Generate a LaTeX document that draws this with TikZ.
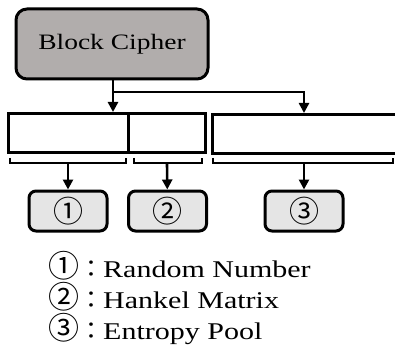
\documentclass[tikz,border=0pt]{standalone}
\usepackage{fontspec}
\setmainfont{Liberation Serif}[FakeStretch=1.25]
\newfontfamily\cjk{Noto Sans CJK KR}
\usetikzlibrary{arrows.meta}
\definecolor{cipherfill}{HTML}{B1ADAC}
\definecolor{numfill}{HTML}{E5E5E5}
\newcommand{\circnum}[1]{{\cjk\fontsize{31}{31}\selectfont #1}{\cjk ：}}

\begin{document}
\begin{tikzpicture}[x=1pt, y=-1pt,
  cipher/.style={rectangle, draw, line width=3pt, rounded corners=11pt, fill=cipherfill,
    minimum width=192pt, minimum height=70pt, font=\fontsize{22}{26}\selectfont},
  cell/.style={rectangle, draw, line width=3pt, minimum height=39pt},
  numbox/.style={rectangle, draw, line width=3pt, rounded corners=7pt, fill=numfill,
    minimum width=78pt, minimum height=40pt, font=\cjk\fontsize{30}{30}\selectfont},
  bracket/.style={line width=2.6pt},
  arrow/.style={-{Triangle[length=10pt,width=10pt]}, line width=2.6pt},
  legend/.style={anchor=base west, inner sep=0pt, font=\fontsize{24}{24}\selectfont}
]
\useasboundingbox (0,0) rectangle (395,347);
\clip (0,0) rectangle (395,347);

% block cipher output
\node[cipher] (cipher) at (112,44) {Block Cipher};
\coordinate (split) at (113,92);

% output blocks
\node[cell, minimum width=120pt] (cellA) at (68,133) {};
\node[cell, minimum width=77pt] (cellB) at (166.5,133) {};
\node[cell, minimum width=190pt] (cellC) at (307,134) {};
\coordinate (joinC) at (304,92);

\draw[arrow] (cipher.south -| split) -- (split |- cellA.north);
\draw[arrow] (split) -- (joinC) -- (joinC |- cellC.north);

% brackets
\draw[bracket] (10,158) -- (10,163) -- (126,163) -- (126,158);
\draw[bracket] (134,158) -- (134,163) -- (202,163) -- (202,158);
\draw[bracket] (213,158) -- (213,163) -- (393,163) -- (393,158);
\coordinate (brA) at (68,163);
\coordinate (brB) at (167,163);
\coordinate (brC) at (304,163);

% parts
\node[numbox] (numA) at (68,211) {①};
\node[numbox] (numB) at (167.5,211) {②};
\node[numbox] (numC) at (304,211) {③};

\draw[arrow] (brA) -- (numA);
\draw[arrow] (brB) -- (numB);
\draw[arrow] (brC) -- (numC);

% legend
\node[legend] (legA) at (48,277) {\circnum{①}Random Number};
\node[legend] (legB) at (48,308) {\circnum{②}Hankel Matrix};
\node[legend] (legC) at (48,339) {\circnum{③}Entropy Pool};
\end{tikzpicture}
\end{document}
